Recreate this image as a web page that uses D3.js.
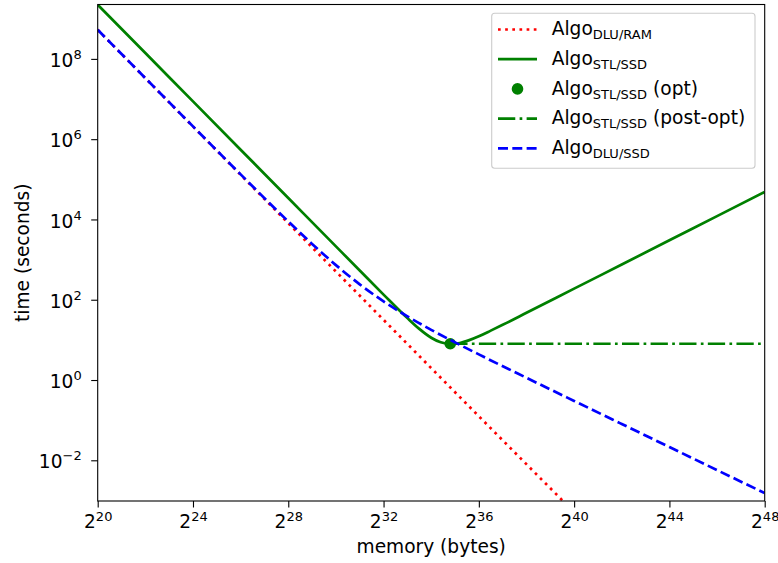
<!DOCTYPE html>
<html>
<head>
<meta charset="utf-8">
<script src="https://cdn.jsdelivr.net/npm/d3@7"></script>
<style>
  html, body { margin: 0; padding: 0; background: #fff; }
  svg { display: block; }
  text { font-family: "DejaVu Sans", sans-serif; fill: #000; }
</style>
</head>
<body>
<svg id="chart" width="778" height="563"></svg>
<script>
// ---- data (x as log2 of memory in bytes, y as time in seconds) ----
const redExp   = [20, 24, 28, 32, 36, 40];
const redTime  = [5.30e8, 2.07e6, 8091, 31.6, 0.125, 5.1e-4];

const greenExp  = [20, 22, 24, 26, 28, 30, 31, 32, 33, 33.5, 34, 34.4, 34.8, 35.2, 35.6, 36, 36.5, 37, 38, 40, 42, 44, 46, 48];
const greenTime = [2.24e9, 1.40e8, 8.75e6, 5.47e5, 3.42e4, 2138, 535, 134.4, 34.9, 18.8, 11.3, 8.69, 7.90, 8.36, 9.86, 12.3, 17.0, 23.7, 47.2, 189, 755, 3020, 12100, 48300];

const optExp  = [34.8];
const optTime = [8.0];

const postOptExp  = [34.8, 48];
const postOptTime = [8.0, 8.0];

const blueExp  = [20, 22, 24, 26, 28, 29, 30, 31, 32, 33, 34, 35, 36, 38, 40, 42, 44, 46, 48];
const blueTime = [5.30e8, 3.32e7, 2.08e6, 1.325e5, 8930, 2455, 729, 241.5, 91.0, 38.6, 17.8, 8.68, 4.35, 1.135, 0.301, 0.0802, 0.0214, 0.0057, 0.00152];

const xTickExp = [20, 24, 28, 32, 36, 40, 44, 48];
const yTickExp = [-2, 0, 2, 4, 6, 8];

const legendMain = ["Algo", "Algo", "Algo", "Algo", "Algo"];
const legendSub  = ["DLU/RAM", "STL/SSD", "STL/SSD", "STL/SSD", "DLU/SSD"];
const legendTail = ["", "", " (opt)", " (post-opt)", ""];

const xLabel = "memory (bytes)";
const yLabel = "time (seconds)";

// ---- layout ----
const L = 97.7, R = 764.7, T = 4.5, B = 501;
const FS = 18.6, SUB = 13, LW = 2.7;

const svg = d3.select("#chart");

const x = d3.scaleLog().base(2).domain([2 ** 20, 2 ** 48]).range([L, R]);
const y = d3.scaleLog().domain([10 ** -3.014, 10 ** 9.355]).range([B, T]);

svg.append("defs").append("clipPath").attr("id", "plotclip")
  .append("rect").attr("x", L).attr("y", T).attr("width", R - L).attr("height", B - T);

const series = [
  { ex: redExp, t: redTime, color: "#ff0000", dash: [1 * LW, 1.65 * LW] },
  { ex: greenExp, t: greenTime, color: "#008000", dash: null },
  { ex: postOptExp, t: postOptTime, color: "#008000", dash: [6.4 * LW, 1.6 * LW, 1 * LW, 1.6 * LW] },
  { ex: blueExp, t: blueTime, color: "#0000ff", dash: [3.7 * LW, 1.6 * LW] }
];

const line = d3.line()
  .x(d => x(2 ** d[0]))
  .y(d => y(d[1]))
  .curve(d3.curveMonotoneX);

const plot = svg.append("g").attr("clip-path", "url(#plotclip)");

function drawSeries(s) {
  plot.append("path")
    .datum(s.ex.map((e, i) => [e, s.t[i]]))
    .attr("d", line)
    .attr("fill", "none")
    .attr("stroke", s.color)
    .attr("stroke-width", LW)
    .attr("stroke-linecap", "butt")
    .attr("stroke-linejoin", "round")
    .attr("stroke-dasharray", s.dash ? s.dash.join(",") : null);
}

drawSeries(series[0]);
drawSeries(series[1]);
plot.selectAll("circle.opt")
  .data(optExp.map((e, i) => [e, optTime[i]]))
  .enter().append("circle")
  .attr("class", "opt")
  .attr("cx", d => x(2 ** d[0]))
  .attr("cy", d => y(d[1]))
  .attr("r", 5.8)
  .attr("fill", "#008000");
drawSeries(series[2]);
drawSeries(series[3]);

// ---- axes ----
const xAxis = d3.axisBottom(x).tickValues(xTickExp.map(e => 2 ** e)).tickSize(6.5).tickFormat(() => "");
const gx = svg.append("g").attr("transform", `translate(0,${B})`).call(xAxis);
gx.select(".domain").remove();
gx.selectAll(".tick line").attr("stroke", "#000").attr("stroke-width", 1.1);
gx.selectAll(".tick").each(function (d) {
  const t = d3.select(this).append("text")
    .attr("x", 0).attr("y", 26.5).attr("text-anchor", "middle")
    .attr("font-size", FS).attr("fill", "#000");
  t.append("tspan").text("2");
  t.append("tspan").attr("dy", -7).attr("font-size", SUB).text(String(Math.round(Math.log2(d))));
});

const yAxis = d3.axisLeft(y).tickValues(yTickExp.map(e => 10 ** e)).tickSize(6.5).tickFormat(() => "");
const gy = svg.append("g").attr("transform", `translate(${L},0)`).call(yAxis);
gy.select(".domain").remove();
gy.selectAll(".tick line").attr("stroke", "#000").attr("stroke-width", 1.1);
gy.selectAll(".tick").each(function (d) {
  const e = Math.round(Math.log10(d));
  const t = d3.select(this).append("text")
    .attr("x", -16).attr("y", 7.6).attr("text-anchor", "end")
    .attr("font-size", FS).attr("fill", "#000");
  t.append("tspan").text("10");
  t.append("tspan").attr("dy", -8).attr("font-size", SUB).text(e < 0 ? "\u2212" + (-e) : String(e));
});

// spines
svg.append("rect")
  .attr("x", L).attr("y", T).attr("width", R - L).attr("height", B - T)
  .attr("fill", "none").attr("stroke", "#000").attr("stroke-width", 1.1);

// axis labels
svg.append("text")
  .attr("x", (L + R) / 2).attr("y", 553).attr("text-anchor", "middle")
  .attr("font-size", FS).text(xLabel);
svg.append("text")
  .attr("transform", `translate(29,${(T + B) / 2}) rotate(-90)`)
  .attr("text-anchor", "middle").attr("font-size", FS).text(yLabel);

// ---- legend ----
const lg = svg.append("g");
lg.append("rect")
  .attr("x", 491.7).attr("y", 13.3).attr("width", 263.3).attr("height", 155)
  .attr("rx", 3).attr("ry", 3)
  .attr("fill", "#fff").attr("fill-opacity", 0.8)
  .attr("stroke", "#cccccc").attr("stroke-width", 1.1);

const legendKinds = [
  { kind: "line", s: series[0] },
  { kind: "line", s: series[1] },
  { kind: "dot", color: "#008000" },
  { kind: "line", s: series[2] },
  { kind: "line", s: series[3] }
];

const rowY0 = 29.5, rowStep = 29.7;
legendMain.forEach((m, i) => {
  const cy = rowY0 + i * rowStep;
  const k = legendKinds[i];
  if (k.kind === "line") {
    lg.append("line")
      .attr("x1", 498).attr("x2", 537).attr("y1", cy).attr("y2", cy)
      .attr("stroke", k.s.color).attr("stroke-width", LW)
      .attr("stroke-dasharray", k.s.dash ? k.s.dash.join(",") : null);
  } else {
    lg.append("circle").attr("cx", 517.5).attr("cy", cy).attr("r", 5.8).attr("fill", k.color);
  }
  const t = lg.append("text")
    .attr("x", 551.7).attr("y", cy + 5.8).attr("font-size", FS);
  t.append("tspan").text(m);
  t.append("tspan").attr("dy", 3.8).attr("font-size", SUB).text(legendSub[i]);
  if (legendTail[i]) t.append("tspan").attr("dy", -3.8).text(legendTail[i]);
});
</script>
</body>
</html>
